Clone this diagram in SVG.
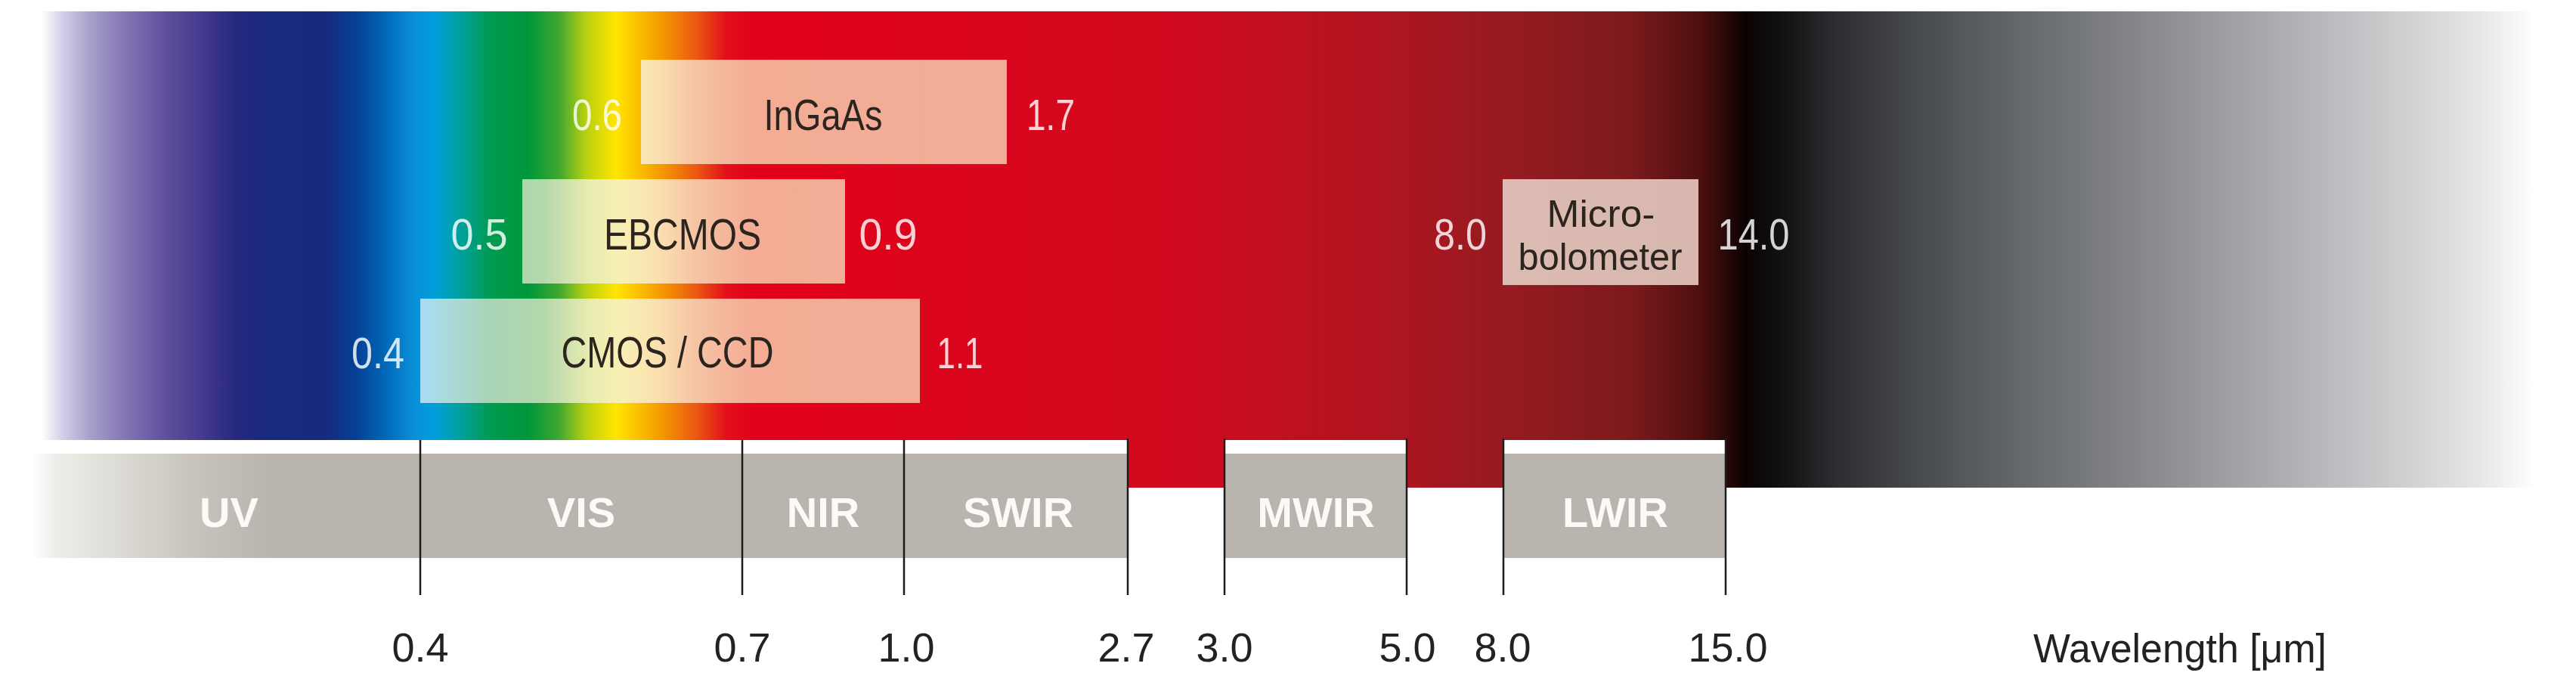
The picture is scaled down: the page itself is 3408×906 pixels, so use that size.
<svg xmlns="http://www.w3.org/2000/svg" width="3408" height="906" viewBox="0 0 3408 906">
<style>
text { font-family: "Liberation Sans", Arial, sans-serif; text-anchor: middle; }
.num { font-size: 57px; fill: #ffffff; fill-opacity: 0.82; }
.lbl { font-size: 57px; fill: #2b241f; }
.band { font-size: 56px; font-weight: bold; fill: #fbfaf6; }
.axis { font-size: 54px; fill: #222222; }
.tick { stroke: #1c1c1c; stroke-width: 2.5; fill: none; }
.grey { fill: #b9b4ad; }
</style>
<defs>
<linearGradient id="spec" gradientUnits="userSpaceOnUse" x1="0" y1="0" x2="3408" y2="0">
<stop offset="0.0161" stop-color="#ffffff"/>
<stop offset="0.0235" stop-color="#d6d2ea"/>
<stop offset="0.0352" stop-color="#a79fcb"/>
<stop offset="0.0499" stop-color="#8072b2"/>
<stop offset="0.0646" stop-color="#5f4f9c"/>
<stop offset="0.0792" stop-color="#43398c"/>
<stop offset="0.0910" stop-color="#27297f"/>
<stop offset="0.0998" stop-color="#1b2a7f"/>
<stop offset="0.1262" stop-color="#172a80"/>
<stop offset="0.1379" stop-color="#063f92"/>
<stop offset="0.1496" stop-color="#0068b8"/>
<stop offset="0.1599" stop-color="#0a8dd8"/>
<stop offset="0.1687" stop-color="#00a0dc"/>
<stop offset="0.1790" stop-color="#00a09a"/>
<stop offset="0.1907" stop-color="#009a50"/>
<stop offset="0.2054" stop-color="#00983a"/>
<stop offset="0.2171" stop-color="#40a830"/>
<stop offset="0.2274" stop-color="#b8d010"/>
<stop offset="0.2391" stop-color="#ffe500"/>
<stop offset="0.2494" stop-color="#fbb900"/>
<stop offset="0.2582" stop-color="#f39200"/>
<stop offset="0.2700" stop-color="#eb5a12"/>
<stop offset="0.2817" stop-color="#e3101a"/>
<stop offset="0.2934" stop-color="#e2001a"/>
<stop offset="0.4577" stop-color="#d00a1e"/>
<stop offset="0.5282" stop-color="#b4141f"/>
<stop offset="0.5869" stop-color="#951b21"/>
<stop offset="0.6338" stop-color="#7b1a1c"/>
<stop offset="0.6602" stop-color="#4e0f0f"/>
<stop offset="0.6778" stop-color="#0a0202"/>
<stop offset="0.6925" stop-color="#121213"/>
<stop offset="0.7130" stop-color="#2d2e32"/>
<stop offset="0.7585" stop-color="#535659"/>
<stop offset="0.8216" stop-color="#7f8184"/>
<stop offset="0.8803" stop-color="#a8aaad"/>
<stop offset="0.9243" stop-color="#c8c9cb"/>
<stop offset="0.9624" stop-color="#e6e6e7"/>
<stop offset="0.9845" stop-color="#ffffff"/>
</linearGradient>
<linearGradient id="boxfill" gradientUnits="userSpaceOnUse" x1="0" y1="0" x2="3408" y2="0">
<stop offset="0.1631" stop-color="#a8dcf4"/>
<stop offset="0.1760" stop-color="#acd9d6"/>
<stop offset="0.1907" stop-color="#a8d4b4"/>
<stop offset="0.2113" stop-color="#b4d8ac"/>
<stop offset="0.2289" stop-color="#e8ecb0"/>
<stop offset="0.2406" stop-color="#f8f0b4"/>
<stop offset="0.2553" stop-color="#fae0b0"/>
<stop offset="0.2700" stop-color="#f6c4a4"/>
<stop offset="0.2876" stop-color="#f4b098"/>
<stop offset="0.2934" stop-color="#f4ac94"/>
<stop offset="0.3900" stop-color="#f2ac98"/>
<stop offset="0.5800" stop-color="#dcbcb2"/>
<stop offset="0.6600" stop-color="#d8b8ae"/>
</linearGradient>
<linearGradient id="uvfade" gradientUnits="userSpaceOnUse" x1="0" y1="0" x2="3408" y2="0">
<stop offset="0.0120" stop-color="#ffffff"/>
<stop offset="0.0220" stop-color="#eeede9"/>
<stop offset="0.0470" stop-color="#dcdad4"/>
<stop offset="0.0763" stop-color="#c7c3bc"/>
<stop offset="0.1056" stop-color="#b9b4ad"/>
<stop offset="1" stop-color="#b9b4ad"/>
</linearGradient>
</defs>
<rect x="0" y="0" width="3408" height="906" fill="#ffffff"/>
<g id="spectrum">
<path d="M55,15 H3355 V645 H2283 V582 H1989 V645 H1861 V582 H1620 V645 H1492 V582 H55 Z" fill="url(#spec)"/>
</g>
<g id="band-uv">
<rect x="40" y="600" width="516" height="138" fill="url(#uvfade)"/>
<text class="band" x="303" y="697">UV</text>
</g>
<g id="band-vis">
<rect x="556" y="600" width="426" height="138" class="grey"/>
<text class="band" x="769" y="697">VIS</text>
</g>
<g id="band-nir">
<rect x="982" y="600" width="214" height="138" class="grey"/>
<text class="band" x="1089" y="697">NIR</text>
</g>
<g id="band-swir">
<rect x="1196" y="600" width="296" height="138" class="grey"/>
<text class="band" x="1347" y="697">SWIR</text>
</g>
<g id="band-mwir">
<rect x="1620" y="600" width="241" height="138" class="grey"/>
<text class="band" x="1741" y="697">MWIR</text>
</g>
<g id="band-lwir">
<rect x="1989" y="600" width="294" height="138" class="grey"/>
<text class="band" x="2137" y="697">LWIR</text>
</g>
<g id="ticks">
<line class="tick" x1="556" y1="582" x2="556" y2="787"/>
<line class="tick" x1="982" y1="582" x2="982" y2="787"/>
<line class="tick" x1="1196" y1="582" x2="1196" y2="787"/>
<line class="tick" x1="1492" y1="580" x2="1492" y2="787"/>
<line class="tick" x1="1620" y1="580" x2="1620" y2="787"/>
<line class="tick" x1="1861" y1="580" x2="1861" y2="787"/>
<line class="tick" x1="1989" y1="580" x2="1989" y2="787"/>
<line class="tick" x1="2283" y1="580" x2="2283" y2="787"/>
</g>
<g id="box-ingaas">
<rect x="848" y="79" width="484" height="138" fill="url(#boxfill)"/>
<text class="lbl" x="1089" y="172" textLength="157" lengthAdjust="spacingAndGlyphs">InGaAs</text>
<text class="num" x="790" y="172" textLength="66" lengthAdjust="spacingAndGlyphs">0.6</text>
<text class="num" x="1390" y="172" textLength="64" lengthAdjust="spacingAndGlyphs">1.7</text>
</g>
<g id="box-ebcmos">
<rect x="691" y="237" width="427" height="138" fill="url(#boxfill)"/>
<text class="lbl" x="903" y="330" textLength="208" lengthAdjust="spacingAndGlyphs">EBCMOS</text>
<text class="num" x="634" y="330" textLength="75" lengthAdjust="spacingAndGlyphs">0.5</text>
<text class="num" x="1175" y="330" textLength="77" lengthAdjust="spacingAndGlyphs">0.9</text>
</g>
<g id="box-cmos-ccd">
<rect x="556" y="395" width="661" height="138" fill="url(#boxfill)"/>
<text class="lbl" x="883" y="486" textLength="281" lengthAdjust="spacingAndGlyphs">CMOS / CCD</text>
<text class="num" x="500" y="487" textLength="70" lengthAdjust="spacingAndGlyphs">0.4</text>
<text class="num" x="1270" y="487" textLength="61" lengthAdjust="spacingAndGlyphs">1.1</text>
</g>
<g id="box-microbolometer">
<rect x="1988" y="237" width="259" height="140" fill="url(#boxfill)"/>
<text class="lbl" style="font-size:50px" x="2118" y="300" textLength="143" lengthAdjust="spacingAndGlyphs">Micro-</text>
<text class="lbl" style="font-size:50px" x="2117" y="357" textLength="217" lengthAdjust="spacingAndGlyphs">bolometer</text>
<text class="num" x="1932" y="330" textLength="70" lengthAdjust="spacingAndGlyphs">8.0</text>
<text class="num" x="2320" y="330" textLength="95" lengthAdjust="spacingAndGlyphs">14.0</text>
</g>
<g id="axis-labels">
<text class="axis" x="556" y="875">0.4</text>
<text class="axis" x="982" y="875">0.7</text>
<text class="axis" x="1199" y="875">1.0</text>
<text class="axis" x="1490" y="875">2.7</text>
<text class="axis" x="1620" y="875">3.0</text>
<text class="axis" x="1862" y="875">5.0</text>
<text class="axis" x="1988" y="875">8.0</text>
<text class="axis" x="2286" y="875">15.0</text>
<text class="axis" x="2884" y="876" textLength="388" lengthAdjust="spacingAndGlyphs">Wavelength [μm]</text>
</g>
</svg>
